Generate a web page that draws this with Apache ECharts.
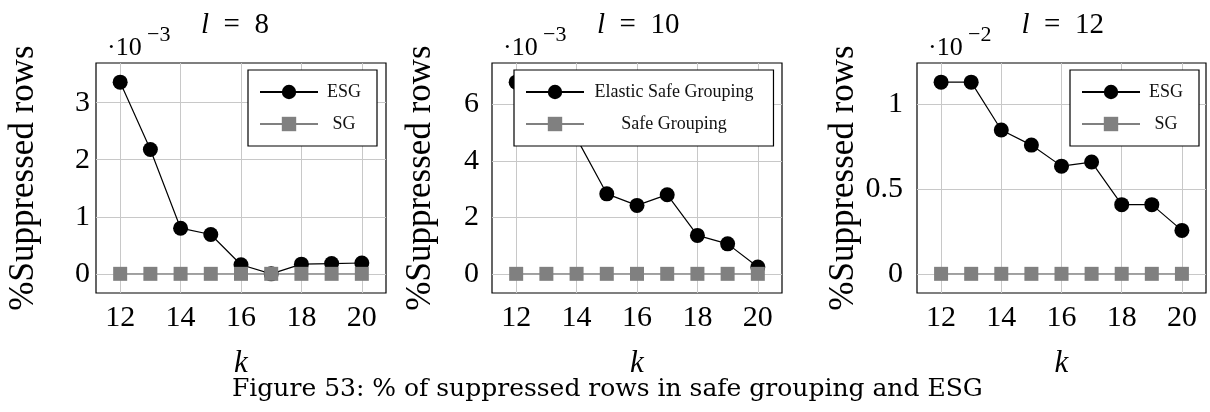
<!DOCTYPE html>
<html>
<head>
<meta charset="utf-8">
<script src="https://cdn.jsdelivr.net/npm/echarts@6/dist/echarts.min.js"></script>
<style>
html,body{margin:0;padding:0;background:#fff;}
#c{width:1210px;height:412px;}
</style>
</head>
<body>
<div id="c"></div>
<script>
// ---- data ----
var kValues = [12, 13, 14, 15, 16, 17, 18, 19, 20];
var xTicks = [12, 14, 16, 18, 20];

// l = 8 (x 10^-3)
var esgL8 = [3.36, 2.18, 0.80, 0.69, 0.16, 0.00, 0.17, 0.18, 0.19];
var sgL8  = [0, 0, 0, 0, 0, 0, 0, 0, 0];
var yTicksL8 = [0, 1, 2, 3];

// l = 10 (x 10^-3)
var esgL10 = [6.78, 5.60, 4.80, 2.83, 2.42, 2.80, 1.36, 1.06, 0.24];
var sgL10  = [0, 0, 0, 0, 0, 0, 0, 0, 0];
var yTicksL10 = [0, 2, 4, 6];

// l = 12 (x 10^-2)
var esgL12 = [1.13, 1.13, 0.848, 0.759, 0.635, 0.659, 0.408, 0.408, 0.256];
var sgL12  = [0, 0, 0, 0, 0, 0, 0, 0, 0];
var yTicksL12 = [0, 0.5, 1];

var panelTitles = ['8', '10', '12'];
var scaleExps = ['\u22123', '\u22123', '\u22122'];
var legendNamesShort = ['ESG', 'SG'];
var legendNamesLong = ['Elastic Safe Grouping', 'Safe Grouping'];
var yAxisName = '%Suppressed rows';
var xAxisName = 'k';
var caption = 'Figure 53: % of suppressed rows in safe grouping and ESG';

// ---- layout ----
var FONT = 'Liberation Serif';
var panels = [
  {left: 96, width: 290, esg: esgL8, sg: sgL8, yt: yTicksL8, names: legendNamesShort, legLeft: 248, textW: 42, padR: 16, nameGap: 55, lblMargin: 6},
  {left: 492, width: 290, esg: esgL10, sg: sgL10, yt: yTicksL10, names: legendNamesLong, legLeft: 514, textW: 170, padR: 20, nameGap: 54, lblMargin: 13},
  {left: 917, width: 289, esg: esgL12, sg: sgL12, yt: yTicksL12, names: legendNamesShort, legLeft: 1070, textW: 42, padR: 16, nameGap: 52, lblMargin: 14}
];
var TOP = 63, HEIGHT = 230;

function span(arr) {
  var mn = Math.min.apply(null, arr), mx = Math.max.apply(null, arr);
  var d = (mx - mn) * 0.1;
  return [mn - d, mx + d];
}

var grids = [], xAxes = [], yAxes = [], series = [], legends = [], graphics = [];
panels.forEach(function (p, i) {
  var yr = span(p.esg.concat(p.sg));
  var xr = span(kValues);
  grids.push({left: p.left, width: p.width, top: TOP, height: HEIGHT, show: true,
    borderColor: '#000', borderWidth: 1.2, backgroundColor: 'transparent'});
  xAxes.push({type: 'value', gridIndex: i, min: xr[0], max: xr[1],
    name: xAxisName, nameLocation: 'middle', nameGap: 55,
    nameTextStyle: {fontFamily: FONT, fontStyle: 'italic', fontSize: 31, color: '#000'},
    axisLine: {show: false},
    axisTick: {show: false, customValues: xTicks},
    axisLabel: {customValues: xTicks, fontFamily: FONT, fontSize: 30, color: '#000', margin: 10},
    splitLine: {show: true, lineStyle: {color: '#c8c8c8', width: 1}}
  });
  yAxes.push({type: 'value', gridIndex: i, min: yr[0], max: yr[1],
    name: yAxisName, nameLocation: 'middle', nameGap: p.nameGap, nameRotate: 90,
    nameTextStyle: {fontFamily: FONT, fontSize: 35, color: '#000'},
    axisLine: {show: false},
    axisTick: {show: false, customValues: p.yt},
    axisLabel: {customValues: p.yt, fontFamily: FONT, fontSize: 30, color: '#000', margin: p.lblMargin,
      formatter: function (v) { return String(Math.round(v * 1000) / 1000); }},
    splitLine: {show: true, lineStyle: {color: '#c8c8c8', width: 1}}
  });
  var esgData = kValues.map(function (k, j) { return [k, p.esg[j]]; });
  var sgData = kValues.map(function (k, j) { return [k, p.sg[j]]; });
  series.push({type: 'line', name: p.names[0], xAxisIndex: i, yAxisIndex: i, data: esgData,
    symbol: 'circle', symbolSize: 15, itemStyle: {color: '#000'},
    lineStyle: {color: '#000', width: 1.2}, animation: false, z: 3});
  series.push({type: 'line', name: p.names[1], xAxisIndex: i, yAxisIndex: i, data: sgData,
    symbol: 'rect', symbolSize: 14, itemStyle: {color: '#808080'},
    lineStyle: {color: '#808080', width: 1.2}, animation: false, z: 4});
  legends.push({
    orient: 'vertical', left: p.legLeft, top: 70,
    data: [p.names[0], p.names[1]],
    backgroundColor: '#fff', borderColor: '#000', borderWidth: 1.2,
    padding: [13, p.padR, 13, 11], itemGap: 14, itemWidth: 58, itemHeight: 18,
    selectedMode: false,
    formatter: function (n) { return '{t|' + n + '}'; },
    textStyle: {rich: {t: {width: p.textW, align: 'center', fontFamily: FONT, fontSize: 18, color: '#111'}}},
    z: 10
  });
  var cx = p.left + p.width / 2;
  graphics.push({type: 'text', left: cx - 40, top: 11, style: {
    text: '{i|l}  =  ' + panelTitles[i],
    rich: {i: {fontFamily: FONT, fontStyle: 'italic', fontSize: 29}},
    fontFamily: FONT, fontSize: 29, fill: '#000'}});
  graphics.push({type: 'text', left: p.left + 11, top: 35, style: {
    text: '\u00b710', fontFamily: FONT, fontSize: 26, fill: '#000'}});
  graphics.push({type: 'text', left: p.left + 51, top: 24, style: {
    text: scaleExps[i], fontFamily: FONT, fontSize: 22, fill: '#000'}});
});

graphics.push({type: 'text', left: 232, top: 377, style: {
  text: caption, fontFamily: 'DejaVu Serif', fontSize: 25, fill: '#000'}});

var chart = echarts.init(document.getElementById('c'), null, {renderer: 'canvas'});
chart.setOption({
  animation: false,
  backgroundColor: '#fff',
  grid: grids, xAxis: xAxes, yAxis: yAxes, series: series,
  legend: legends, graphic: graphics
});
</script>
</body>
</html>
